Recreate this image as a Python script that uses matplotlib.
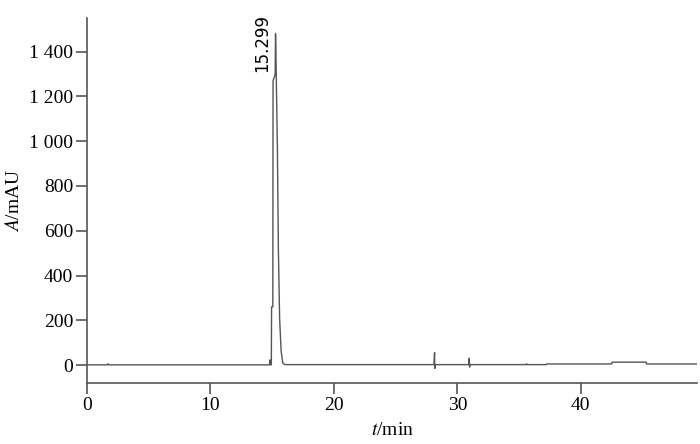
import matplotlib
matplotlib.use("Agg")
import matplotlib.pyplot as plt
import numpy as np
from matplotlib.ticker import FuncFormatter

plt.rcParams['font.family'] = ['Liberation Serif', 'DejaVu Serif']
plt.rcParams['mathtext.fontset'] = 'stix'

# chromatogram trace (time in min, absorbance in mAU)
time_min = [0.0, 1.65, 1.70, 1.75, 14.70, 14.78, 14.80, 14.86, 14.88, 14.93,
            14.95, 15.05, 15.07, 15.20, 15.24, 15.27, 15.30, 15.34,
            15.42, 15.50, 15.60, 15.72, 15.85, 16.00, 16.20, 28.10, 28.15,
            28.17, 28.20, 30.92, 30.96, 30.99, 31.02, 35.55, 35.60, 35.65,
            37.20, 37.22, 42.50, 42.52, 45.30, 45.32, 49.40]
absorb = [1, 1, 6, 1, 1, 1, 22, 22, 1, 1,
          260, 260, 1270, 1290, 1300, 1480, 1400, 1250,
          975, 520, 210, 65, 10, 3, 2, 2, 55,
          -15, 2, 2, 31, -9, 2, 2, 6, 2,
          2, 5, 5, 13, 13, 5, 5]

peak_rt = 15.299
y_ticks = [0, 200, 400, 600, 800, 1000, 1200, 1400]
x_ticks = [0, 10, 20, 30, 40]

fig = plt.figure(figsize=(7, 4.44), dpi=100)
ax = fig.add_axes([0.1243, 0.1374, 0.8718, 0.8221])

ax.plot(time_min, absorb, color='#555555', lw=1.0)

ax.set_xlim(0, 49.43)
ax.set_ylim(-80, 1550)
ax.set_xticks(x_ticks)
ax.set_yticks(y_ticks)

def fmt(v, pos):
    v = int(v)
    if v >= 1000:
        return '%d %03d' % (v // 1000, v % 1000)
    return str(v)

ax.yaxis.set_major_formatter(FuncFormatter(fmt))

for s in ['top', 'right']:
    ax.spines[s].set_visible(False)
for s in ['left', 'bottom']:
    ax.spines[s].set_color('#555555')
    ax.spines[s].set_linewidth(1.2)
ax.tick_params(direction='out', length=8, width=1.2, color='#555555',
               labelsize=14, pad=2)

ax.set_xlabel(r'$t$/min', fontsize=14, labelpad=6)
ax.set_ylabel(r'$A$/mAU', fontsize=14, labelpad=4)

ax.text(peak_rt - 1.1, 1310, '15.299', rotation=90, fontsize=12,
        family='DejaVu Sans', ha='center', va='bottom')

fig.savefig('out.png', dpi=100)
